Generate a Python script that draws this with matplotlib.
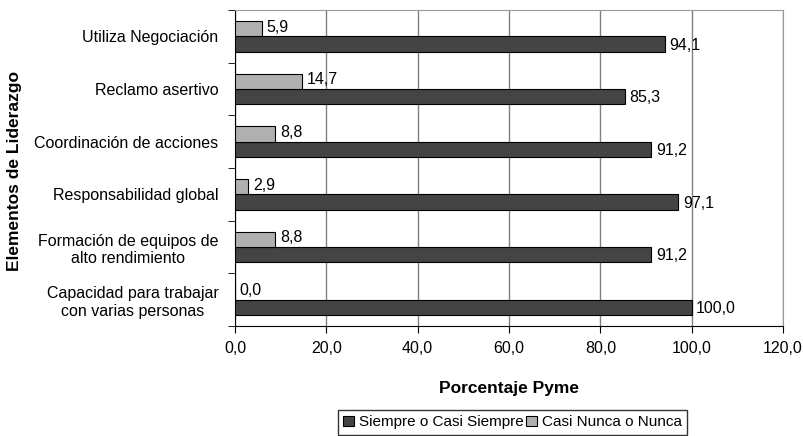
import matplotlib
matplotlib.use('Agg')
import matplotlib.pyplot as plt
import numpy as np

plt.rcParams['font.family'] = ['Liberation Sans', 'DejaVu Sans']

categorias = ['Utiliza Negociación',
              'Reclamo asertivo',
              'Coordinación de acciones',
              'Responsabilidad global',
              'Formación de equipos de\nalto rendimiento',
              'Capacidad para trabajar\ncon varias personas']
siempre = [94.1, 85.3, 91.2, 97.1, 91.2, 100.0]
nunca = [5.9, 14.7, 8.8, 2.9, 8.8, 0.0]
xticks = [0, 20, 40, 60, 80, 100, 120]

fig = plt.figure(figsize=(8.04, 4.36), dpi=100)
ax = fig.add_axes([235 / 804, 1 - 326 / 436, 548 / 804, 316 / 436])

y = np.arange(len(categorias))
h = 0.29
off = 0.145
b1 = ax.barh(y + off, siempre, height=h, color='#444444', edgecolor='black',
             linewidth=0.8, label='Siempre o Casi Siempre', zorder=3)
b2 = ax.barh(y - off, nunca, height=h, color='#b0b0b0', edgecolor='black',
             linewidth=0.8, label='Casi Nunca o Nunca', zorder=3)

for yy, v in zip(y, siempre):
    ax.text(v + 1.0, yy + off + 0.02, ('%.1f' % v).replace('.', ','),
            va='center', ha='left', fontsize=11.5)
for yy, v in zip(y, nunca):
    ax.text(v + 1.0, yy - off - 0.03, ('%.1f' % v).replace('.', ','),
            va='center', ha='left', fontsize=11.5)

ax.set_xlim(0, 120)
ax.set_ylim(len(categorias) - 0.5, -0.5)
ax.set_xticks(xticks)
ax.set_xticklabels([('%.1f' % t).replace('.', ',') for t in xticks], fontsize=11.5)
ax.set_yticks(y)
ax.set_yticklabels(categorias, fontsize=11.5, multialignment='center')
ax.tick_params(axis='y', length=0, pad=12)
ax.set_yticks(np.arange(-0.5, len(categorias)), minor=True)
ax.tick_params(axis='y', which='minor', length=5, direction='out')
ax.tick_params(axis='x', length=5, direction='out', pad=6)
ax.grid(axis='x', color='#808080', linewidth=1, zorder=0)

ax.spines['top'].set_color('#999999')
ax.spines['right'].set_color('#999999')

ax.set_xlabel('Porcentaje Pyme', fontsize=12.5, fontweight='bold')
ax.xaxis.set_label_coords(0.5, (326 - 381) / 316)
ax.set_ylabel('Elementos de Liderazgo', fontsize=12.5, fontweight='bold')
ax.yaxis.set_label_coords((22 - 235) / 548, 0.49)

fig.legend(handles=[b1, b2], loc='upper left', bbox_to_anchor=(338 / 804, 1 - 410 / 436),
           ncol=2, fontsize=11, frameon=True, fancybox=False, edgecolor='black',
           handlelength=0.7, handleheight=0.7, handletextpad=0.3, columnspacing=0.2,
           borderpad=0.35, borderaxespad=0)

fig.savefig('out.png', dpi=100)
